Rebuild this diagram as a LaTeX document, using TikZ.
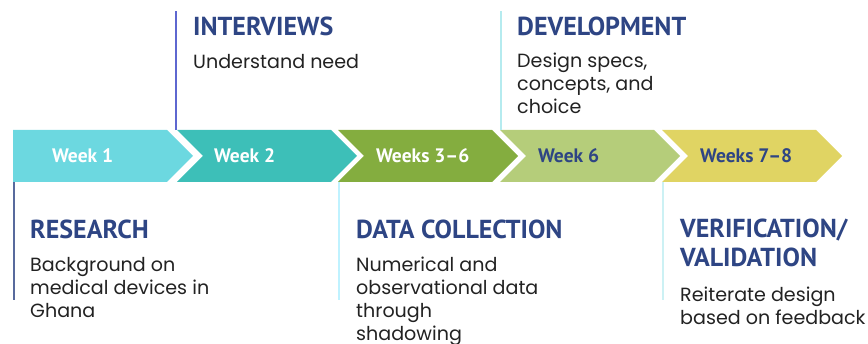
\documentclass[tikz,border=0pt]{standalone}
\usepackage{fontspec}
\setmainfont{Poppins}
\newfontfamily\headfont{PT Sans}
\usetikzlibrary{positioning}

% colours of the timeline
\definecolor{wkone}{HTML}{6CD8E0}
\definecolor{wktwo}{HTML}{3DBFB8}
\definecolor{wkthree}{HTML}{84AD3F}
\definecolor{wkfour}{HTML}{B5CD7A}
\definecolor{wkfive}{HTML}{E0D463}
\definecolor{navy}{HTML}{2E4584}
\definecolor{bodyink}{HTML}{222222}

\tikzstyle{weeklabel} = [anchor=base west, inner sep=0pt, font=\headfont\bfseries\fontsize{19.5}{21}\selectfont]
\tikzstyle{phase} = [anchor=base west, inner sep=0pt, align=left, text=navy, font=\headfont\bfseries\fontsize{26}{29}\selectfont]
\tikzstyle{note} = [anchor=base west, inner sep=0pt, align=left, text=bodyink, font=\fontsize{19.1}{23}\selectfont]
\tikzstyle{marker} = [draw, line width=1.6pt]

% one chevron of the timeline: #1 left x, #2 fill, #3 notched (1) or flat (0)
\newcommand{\chevron}[3]{%
  \ifnum#3=1
    \fill[#2] (#1,130) -- ++(154,0) -- ++(26,26) -- ++(-26,26) -- ++(-154,0) -- ++(26,-26) -- cycle;
  \else
    \fill[#2] (#1,130) -- ++(154,0) -- ++(26,26) -- ++(-26,26) -- ++(-154,0) -- cycle;
  \fi}

\begin{document}
\begin{tikzpicture}[x=1pt, y=-1pt]
	\useasboundingbox (0,0) rectangle (868,344);

	% the arrows
	\chevron{13}{wkone}{0}
	\chevron{177}{wktwo}{1}
	\chevron{338}{wkthree}{1}
	\chevron{500}{wkfour}{1}
	\chevron{662}{wkfive}{1}

	\node[weeklabel, text=white] (w1) at (52,163) {Week 1};
	\node[weeklabel, text=white] (w2) at (214,163) {Week 2};
	\node[weeklabel, text=white] (w3) at (376,163) {Weeks 3–6};
	\node[weeklabel, text=navy] (w4) at (538,163) {Week 6};
	\node[weeklabel, text=navy] (w5) at (700,163) {Weeks 7–8};

	% phase markers
	\coordinate (m1a) at (14,182);  \coordinate (m1b) at (14,300);
	\coordinate (m2a) at (176,130); \coordinate (m2b) at (176,11);
	\coordinate (m3a) at (339,182); \coordinate (m3b) at (339,300);
	\coordinate (m4a) at (501,130); \coordinate (m4b) at (501,11);
	\coordinate (m5a) at (663,182); \coordinate (m5b) at (663,300);
	\draw[marker, color=navy!80] (m1a) -- (m1b);
	\draw[marker, color=blue!45!navy!70] (m2a) -- (m2b);
	\draw[marker, color=blue!20!cyan!25] (m3a) -- (m3b);
	\draw[marker, color=wkone!50] (m4a) -- (m4b);
	\draw[marker, color=wkone!35] (m5a) -- (m5b);

	% phase titles and notes (base = last line)
	\node[phase] (research) at (30,239) {RESEARCH};
	\node[note] (researchtxt) at (30,318) {Background on\\medical devices in\\Ghana};

	\node[phase] (interviews) at (193,36) {INTERVIEWS};
	\node[note] (interviewstxt) at (193,69) {Understand need};

	\node[phase] (data) at (356,239) {DATA COLLECTION};
	\node[note] (datatxt) at (356,341) {Numerical and\\observational data\\through\\shadowing};

	\node[phase] (dev) at (517,36) {DEVELOPMENT};
	\node[note] (devtxt) at (517,114) {Design specs,\\concepts, and\\choice};

	\node[phase] (verif) at (680,267) {VERIFICATION/\\VALIDATION};
	\node[note] (veriftxt) at (680,325) {Reiterate design\\based on feedback};
\end{tikzpicture}
\end{document}
